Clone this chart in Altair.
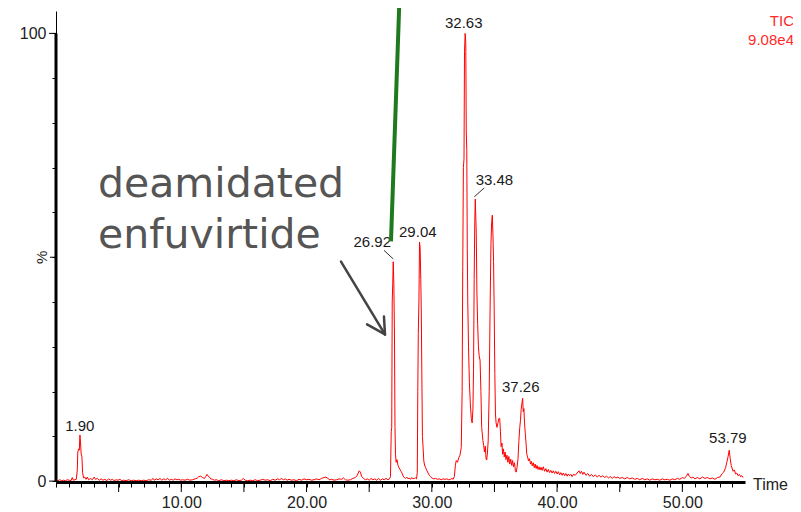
import altair as alt
import pandas as pd

# ---------------- data ----------------
trace_time = [
    0.00, 0.15, 0.30, 0.45, 0.60, 0.75, 0.90, 1.05, 1.20, 1.30, 1.38, 1.50, 1.62, 1.70, 1.74, 1.80, 1.86, 1.91, 1.96, 2.01,
    2.07, 2.12, 2.20, 2.30, 2.40, 2.50, 2.60, 2.75, 2.90, 3.05, 3.15, 3.30, 3.45, 3.60, 3.75, 3.90, 4.05, 4.20, 4.35, 4.50,
    4.65, 4.80, 4.95, 5.10, 5.25, 5.40, 5.60, 5.80, 6.00, 6.20, 6.40, 6.60, 6.80, 7.00, 7.20, 7.40, 7.60, 7.75, 7.85, 8.00,
    8.15, 8.30, 8.45, 8.60, 8.75, 8.90, 9.05, 9.20, 9.35, 9.50, 9.65, 9.80, 9.95, 10.10, 10.30, 10.50, 10.70, 10.90, 11.10, 11.25,
    11.40, 11.55, 11.70, 11.85, 11.95, 12.05, 12.15, 12.25, 12.35, 12.50, 12.65, 12.80, 13.00, 13.20, 13.40, 13.60, 13.80, 14.00, 14.20, 14.40,
    14.60, 14.80, 14.95, 15.10, 15.30, 15.50, 15.70, 15.90, 16.10, 16.30, 16.50, 16.70, 16.90, 17.10, 17.30, 17.50, 17.70, 17.85, 18.00, 18.15,
    18.30, 18.45, 18.60, 18.80, 19.00, 19.20, 19.40, 19.60, 19.80, 20.00, 20.20, 20.40, 20.60, 20.80, 21.00, 21.20, 21.40, 21.55, 21.70, 21.85,
    22.00, 22.20, 22.40, 22.60, 22.80, 22.95, 23.10, 23.30, 23.50, 23.70, 23.90, 24.05, 24.20, 24.30, 24.40, 24.55, 24.70, 24.85, 25.00, 25.15,
    25.30, 25.45, 25.60, 25.75, 25.90, 26.05, 26.20, 26.35, 26.50, 26.62, 26.70, 26.76, 26.80, 26.84, 26.88, 26.92, 26.97, 27.02, 27.06, 27.10,
    27.15, 27.22, 27.30, 27.38, 27.46, 27.54, 27.62, 27.70, 27.80, 27.90, 28.00, 28.10, 28.20, 28.30, 28.40, 28.50, 28.60, 28.70, 28.78, 28.84,
    28.88, 28.92, 28.97, 29.02, 29.07, 29.12, 29.16, 29.20, 29.25, 29.30, 29.36, 29.42, 29.50, 29.60, 29.70, 29.80, 29.90, 30.00, 30.15, 30.30,
    30.45, 30.60, 30.75, 30.90, 31.05, 31.20, 31.35, 31.50, 31.60, 31.70, 31.80, 31.88, 31.95, 32.05, 32.15, 32.25, 32.35, 32.42, 32.47, 32.52,
    32.57, 32.61, 32.66, 32.71, 32.75, 32.79, 32.83, 32.87, 32.93, 33.00, 33.08, 33.15, 33.22, 33.28, 33.33, 33.38, 33.43, 33.47, 33.51, 33.55,
    33.60, 33.66, 33.72, 33.78, 33.85, 33.92, 33.98, 34.03, 34.08, 34.14, 34.20, 34.27, 34.33, 34.38, 34.43, 34.50, 34.58, 34.65, 34.72, 34.78,
    34.83, 34.88, 34.93, 34.98, 35.03, 35.08, 35.13, 35.20, 35.28, 35.35, 35.42, 35.48, 35.53, 35.60, 35.65, 35.72, 35.78, 35.85, 35.92, 36.00,
    36.07, 36.15, 36.22, 36.30, 36.38, 36.45, 36.52, 36.60, 36.67, 36.73, 36.80, 36.88, 36.95, 37.02, 37.08, 37.13, 37.20, 37.25, 37.30, 37.35,
    37.40, 37.46, 37.52, 37.58, 37.65, 37.72, 37.80, 37.88, 37.95, 38.02, 38.10, 38.18, 38.25, 38.33, 38.40, 38.48, 38.56, 38.64, 38.72, 38.80,
    38.90, 39.00, 39.10, 39.20, 39.30, 39.40, 39.50, 39.60, 39.70, 39.80, 39.90, 40.00, 40.10, 40.20, 40.30, 40.40, 40.50, 40.60, 40.70, 40.80,
    40.90, 41.00, 41.10, 41.20, 41.30, 41.45, 41.60, 41.75, 41.85, 41.95, 42.05, 42.15, 42.30, 42.45, 42.60, 42.75, 42.90, 43.05, 43.20, 43.35,
    43.50, 43.65, 43.80, 43.95, 44.10, 44.25, 44.40, 44.55, 44.70, 44.85, 45.00, 45.20, 45.40, 45.60, 45.80, 46.00, 46.20, 46.40, 46.60, 46.80,
    47.00, 47.20, 47.40, 47.60, 47.80, 48.00, 48.20, 48.40, 48.60, 48.80, 49.00, 49.20, 49.40, 49.60, 49.80, 50.00, 50.15, 50.30, 50.45, 50.55,
    50.70, 50.85, 51.00, 51.20, 51.40, 51.60, 51.80, 52.00, 52.20, 52.40, 52.60, 52.80, 53.00, 53.15, 53.30, 53.45, 53.55, 53.65, 53.74, 53.82,
    53.90, 53.97, 54.05, 54.15, 54.25, 54.35, 54.45, 54.55, 54.65, 54.75, 54.85,
]
trace_pct = [
    0.2, 0.1, 0.3, 0.1, 0.2, 0.1, 0.3, 0.2, 0.1, 0.8, 0.2, 0.3, 0.4, 2.5, 6.5, 7.2, 6.9, 10.3, 8.5, 6.0,
    5.4, 2.0, 0.7, 0.9, 0.4, 0.9, 0.3, 0.6, 0.3, 0.9, 0.4, 0.6, 0.2, 0.5, 0.2, 0.4, 0.1, 0.5, 0.2, 0.4,
    0.1, 0.3, 0.2, 0.4, 0.1, 0.2, 0.1, 0.3, 0.1, 0.2, 0.1, 0.2, 0.1, 0.2, 0.1, 0.3, 0.2, 0.6, 0.2, 0.5,
    0.3, 0.6, 0.2, 0.5, 0.3, 0.6, 0.2, 0.4, 0.2, 0.5, 0.3, 0.4, 0.2, 0.3, 0.2, 0.4, 0.2, 0.3, 0.5, 0.6,
    1.0, 1.1, 0.8, 0.6, 1.0, 1.5, 1.1, 0.9, 0.5, 0.4, 0.2, 0.3, 0.1, 0.3, 0.1, 0.2, 0.1, 0.2, 0.1, 0.3,
    0.1, 0.2, 0.6, 0.2, 0.1, 0.2, 0.1, 0.3, 0.1, 0.2, 0.4, 0.2, 0.3, 0.1, 0.4, 0.2, 0.5, 0.3, 0.6, 0.3,
    0.5, 0.2, 0.4, 0.2, 0.3, 0.1, 0.4, 0.2, 0.5, 0.3, 0.4, 0.2, 0.3, 0.5, 0.3, 0.6, 0.8, 0.9, 0.6, 0.3,
    0.4, 0.2, 0.3, 0.5, 0.4, 0.7, 0.3, 0.2, 0.3, 0.6, 0.8, 1.3, 2.3, 2.0, 1.0, 0.6, 0.3, 0.5, 0.2, 0.6,
    0.3, 0.5, 0.2, 0.6, 0.2, 0.5, 0.3, 0.6, 0.3, 0.5, 1.0, 11.0, 12.0, 40.0, 44.0, 49.0, 44.0, 32.0, 12.0, 6.0,
    4.2, 4.8, 3.5, 3.0, 2.6, 2.2, 1.8, 1.2, 0.8, 0.6, 0.9, 0.5, 0.7, 0.4, 0.8, 0.5, 0.6, 0.7, 0.5, 2.0,
    20.0, 33.0, 40.0, 53.4, 52.0, 45.0, 38.0, 25.0, 10.0, 7.6, 4.5, 3.6, 3.0, 2.4, 1.8, 1.3, 1.0, 0.7, 0.5, 0.6,
    0.4, 0.5, 0.3, 0.5, 0.4, 0.5, 0.3, 0.4, 0.6, 0.4, 1.0, 3.5, 4.6, 4.2, 5.2, 5.8, 7.5, 20.0, 48.0, 70.0,
    72.0, 96.0, 100.0, 98.0, 78.0, 74.0, 52.0, 40.0, 30.0, 22.0, 17.0, 14.0, 13.0, 16.0, 25.0, 45.0, 58.0, 63.0, 59.0, 55.0,
    42.0, 35.0, 30.0, 28.0, 27.0, 20.0, 12.0, 10.5, 9.0, 8.0, 6.5, 7.8, 5.0, 4.7, 6.0, 9.0, 20.0, 38.0, 53.0, 58.0,
    59.4, 55.0, 49.0, 38.0, 24.0, 15.0, 13.0, 12.0, 13.0, 14.0, 14.0, 11.0, 7.7, 8.5, 6.0, 7.2, 5.4, 6.5, 4.8, 5.8,
    4.2, 5.5, 3.8, 4.9, 3.5, 4.6, 3.2, 4.1, 2.3, 2.0, 3.0, 5.0, 9.0, 12.0, 13.6, 16.0, 17.5, 18.5, 15.5, 16.2,
    13.0, 10.7, 8.5, 6.0, 5.4, 4.5, 5.0, 3.8, 4.4, 3.4, 4.1, 3.0, 3.8, 2.8, 3.5, 2.6, 3.2, 2.5, 3.1, 2.4,
    3.2, 2.2, 2.8, 2.0, 2.6, 1.9, 2.4, 1.8, 2.3, 1.7, 2.2, 1.6, 2.1, 1.4, 1.9, 1.3, 1.8, 1.2, 1.7, 1.1,
    1.6, 1.2, 1.5, 1.0, 1.5, 1.3, 1.8, 2.3, 1.7, 2.2, 1.5, 2.0, 1.3, 1.7, 1.1, 1.5, 1.0, 1.4, 0.9, 1.3,
    0.9, 1.2, 0.8, 1.1, 0.7, 1.0, 0.6, 1.0, 0.7, 0.9, 0.6, 0.8, 0.5, 0.8, 0.5, 0.7, 0.4, 0.6, 0.3, 0.6,
    0.3, 0.5, 0.2, 0.5, 0.3, 0.4, 0.2, 0.5, 0.3, 0.4, 0.2, 0.5, 0.3, 0.6, 0.4, 0.8, 0.6, 1.0, 1.7, 1.1,
    0.7, 0.9, 0.5, 0.8, 0.5, 0.9, 0.6, 0.8, 0.5, 0.7, 0.4, 0.8, 0.9, 1.6, 2.0, 3.0, 4.2, 5.5, 6.9, 5.0,
    3.5, 2.9, 2.2, 2.5, 1.6, 1.8, 1.2, 1.5, 1.0, 1.2, 0.8,
]

peak_labels = ["1.90", "26.92", "29.04", "32.63", "33.48", "37.26", "53.79"]
peak_time = [1.90, 26.92, 29.04, 32.63, 33.48, 37.26, 53.79]
peak_height = [10.3, 49.0, 53.4, 100.0, 63.0, 18.5, 6.9]

x_ticks_minor = list(range(0, 55))
x_ticks_major = [5, 10, 15, 20, 25, 30, 35, 40, 45, 50]
y_ticks_minor = list(range(0, 101, 10))

annotation_lines = ["deamidated", "enfuvirtide"]
trace_name = "TIC"
trace_scale = "9.08e4"

# ---------------- layout / style ----------------
W, H = 689, 471
XD = [0, 55]
YD = [-0.2, 105]
FONT = "Liberation Sans"

xs = alt.Scale(domain=XD, nice=False, zero=False)
ys = alt.Scale(domain=YD, nice=False, zero=False)

x_axis = alt.Axis(
    orient="bottom", values=x_ticks_minor, tickSize=5, tickColor="#000", tickWidth=1,
    labelExpr="datum.value % 10 == 0 && datum.value > 0 ? format(datum.value, '.2f') : ''",
    labelFont=FONT, labelFontSize=16, labelColor="#222", labelPadding=7,
    labelOverlap=False, labelFlush=False, grid=False, title=None,
    domainColor="#000", domainWidth=3)
y_axis = alt.Axis(
    orient="left", values=y_ticks_minor, tickSize=4, tickColor="#000", tickWidth=1,
    labelExpr="datum.value == 0 || datum.value == 100 ? format(datum.value, 'd') : ''",
    labelFont=FONT, labelFontSize=16, labelColor="#222", labelPadding=6,
    labelOverlap=False, labelFlush=False, grid=False, title=None,
    domainColor="#000", domainWidth=1)


def X(f):
    return alt.X(f, type="quantitative", scale=xs, axis=x_axis)


def Y(f):
    return alt.Y(f, type="quantitative", scale=ys, axis=y_axis)


df = pd.DataFrame({"t": trace_time, "p": trace_pct})

line = alt.Chart(df).mark_line(color="#ff0000", strokeWidth=1, clip=True).encode(x=X("t"), y=Y("p"))

# thick part of y axis (0..100)
ythick = alt.Chart(pd.DataFrame({"a": [0], "b": [100]})).mark_rule(
    color="#000", strokeWidth=3).encode(x=alt.value(0), y=Y("a"), y2="b:Q")

# major ticks
xmaj = alt.Chart(pd.DataFrame({"v": x_ticks_major})).mark_rule(color="#000", strokeWidth=1).encode(
    x=X("v"), y=alt.value(H), y2=alt.value(H + 10))
ymaj = alt.Chart(pd.DataFrame({"v": [0, 100]})).mark_rule(color="#000", strokeWidth=1).encode(
    y=Y("v"), x=alt.value(-7), x2=alt.value(0))
ymid = alt.Chart(pd.DataFrame({"v": [50]})).mark_rule(color="#000", strokeWidth=1).encode(
    y=Y("v"), x=alt.value(-6), x2=alt.value(0))

pct = alt.Chart(pd.DataFrame({"v": [50], "s": ["%"]})).mark_text(
    font=FONT, fontSize=15, color="#222", angle=270, align="center", baseline="middle").encode(
    y=Y("v"), x=alt.value(-14), text="s:N")

# peak labels with individual offsets
offsets = {"1.90": (0, -4), "26.92": (-21, -15), "29.04": (-2, -5), "32.63": (-1, -5),
           "33.48": (19, -14), "37.26": (-2, -6), "53.79": (-2, -7)}
pk = pd.DataFrame({"t": peak_time, "h": peak_height, "s": peak_labels})
peak_layers = []
for lab in peak_labels:
    dx, dy = offsets[lab]
    peak_layers.append(
        alt.Chart(pk[pk.s == lab]).mark_text(
            font=FONT, fontSize=15, color="#1a1a1a", align="center", baseline="alphabetic",
            dx=dx, dy=dy).encode(x=X("t"), y=Y("h"), text="s:N"))

# leader lines (data coords)
lead = pd.DataFrame({"x1": [26.18, 33.39], "y1": [51.55, 63.5], "x2": [26.93, 34.19], "y2": [49.6, 65.5]})
leaders = alt.Chart(lead).mark_rule(color="#333", strokeWidth=1).encode(
    x=X("x1"), y=Y("y1"), x2="x2:Q", y2="y2:Q")

# green line
green = alt.Chart(pd.DataFrame({"x1": [26.74], "y1": [53.55], "x2": [27.42], "y2": [108.0]})).mark_rule(
    color="#1f7a1f", strokeWidth=4).encode(x=X("x1"), y=Y("y1"), x2="x2:Q", y2="y2:Q")

# gray arrow
arr = pd.DataFrame({"x1": [22.75, 24.83, 26.18], "y1": [49.03, 35.0, 36.76],
                    "x2": [26.26, 26.26, 26.26], "y2": [32.76, 32.76, 32.76]})
arrow = alt.Chart(arr).mark_rule(color="#444", strokeWidth=2.5, strokeCap="round").encode(
    x=X("x1"), y=Y("y1"), x2="x2:Q", y2="y2:Q")

ann = alt.Chart(pd.DataFrame({"x": [3.35, 3.35], "y": [63.52, 52.15], "s": annotation_lines})).mark_text(
    font="DejaVu Sans", fontSize=41, color="#555555", align="left", baseline="alphabetic").encode(
    x=X("x"), y=Y("y"), text="s:N")

tic1 = alt.Chart(pd.DataFrame({"s": [trace_name]})).mark_text(
    font=FONT, fontSize=15, color="#ff2a2a", align="right", baseline="alphabetic").encode(
    x=alt.value(738), y=alt.value(15), text="s:N")
tic2 = alt.Chart(pd.DataFrame({"s": [trace_scale]})).mark_text(
    font=FONT, fontSize=15, color="#ff2a2a", align="right", baseline="alphabetic").encode(
    x=alt.value(738), y=alt.value(34), text="s:N")

timelab = alt.Chart(pd.DataFrame({"s": ["Time"]})).mark_text(
    font=FONT, fontSize=16, color="#222", align="left", baseline="alphabetic").encode(
    x=alt.value(697), y=alt.value(479), text="s:N")

chart = alt.layer(line, ythick, xmaj, ymaj, ymid, pct, *peak_layers, leaders, green, arrow, ann,
                  tic1, tic2, timelab).properties(
    width=W, height=H,
    autosize=alt.AutoSizeParams(type="none"),
    padding={"left": 48, "top": 3, "right": 48, "bottom": 28},
).configure_view(stroke=None)

chart.save("out.html", embed_options={"renderer": "svg", "actions": False})
